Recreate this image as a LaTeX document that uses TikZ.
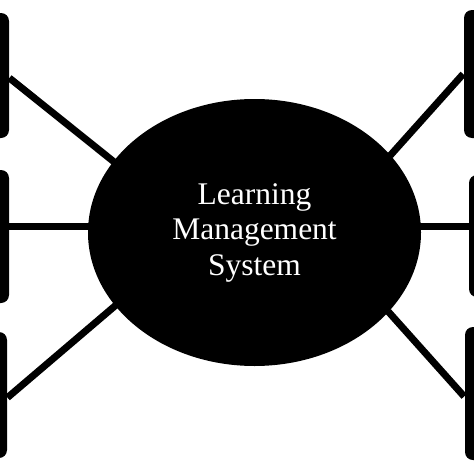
\documentclass[tikz,border=0pt]{standalone}
\usepackage{fontspec}
\setmainfont{Liberation Serif}
\usetikzlibrary{shapes.geometric}

\begin{document}
\begin{tikzpicture}[x=1pt, y=-1pt, line width=7pt, shorten <=-4pt, shorten >=-4pt]
    \tikzstyle{hub} = [ellipse, fill=black, text=white, align=center, inner sep=0pt, minimum width=333pt, minimum height=267pt, font=\fontsize{31.5}{35.5}\selectfont]
    \tikzstyle{tab} = [rectangle, rounded corners=8pt, fill=black, minimum width=30pt, inner sep=0pt]
    \clip (0,0) rectangle (474,474);
    \fill[white] (0,0) rectangle (474,474);
    \node [hub] at (254.5,232.5) (lms) {Learning\\Management\\System};
    \node [tab, minimum height=125pt] at (-6,75.5) (lefttop) {};
    \node [tab, minimum height=133pt] at (-6,236.5) (leftmid) {};
    \node [tab, minimum height=126pt] at (-8,395) (leftbot) {};
    \node [tab, minimum height=128pt] at (479,74) (righttop) {};
    \node [tab, minimum height=122pt] at (484,236) (rightmid) {};
    \node [tab, minimum height=133pt] at (480,393.5) (rightbot) {};
    \draw (lms.153) -- ([yshift=-5pt]lefttop.east);
    \draw (lms.178) -- (lms.178 -| leftmid.east);
    \draw (lms.208) -- (leftbot.east);
    \draw (lms.30) -- ([yshift=-3pt]righttop.west);
    \draw (lms.2) -- (lms.2 -| rightmid.west);
    \draw (lms.-31) -- (rightbot.west);
\end{tikzpicture}
\end{document}
